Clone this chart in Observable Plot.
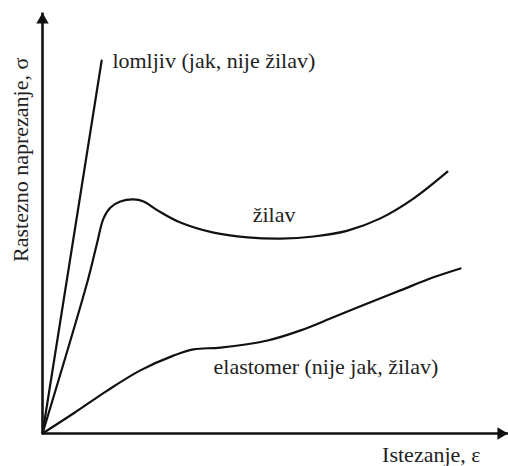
<!DOCTYPE html>
<html>
<head>
<meta charset="utf-8">
<script src="https://cdn.jsdelivr.net/npm/d3@7"></script>
<script src="https://cdn.jsdelivr.net/npm/@observablehq/plot@0.6"></script>
</head>
<body style="margin:0;background:#fff">
<div id="chart"></div>
<script>
// Brittle material (lomljiv)
const brittleX = [0, 12.7];
const brittleY = [0, 88.6];
// Tough material (žilav)
const toughX = [0, 9.7, 11.6, 13.1, 14.6, 16.7, 19.5, 21.7, 24.7, 29.6, 36.7, 44.0, 51.1, 58.2, 65.5, 72.5, 79.6, 86.9];
const toughY = [0, 36.3, 44.7, 51.1, 53.7, 55.1, 55.6, 55.1, 53.0, 50.1, 47.7, 46.6, 46.3, 46.8, 48.2, 51.1, 55.8, 62.2];
// Elastomer
const elastX = [0, 6.7, 13.9, 21.0, 28.1, 32.4, 38.2, 48.3, 55.4, 62.4, 69.7, 76.8, 83.9, 89.7];
const elastY = [0, 4.8, 10.2, 15.0, 18.5, 20.0, 20.4, 22.1, 24.5, 27.6, 30.9, 34.0, 37.1, 39.2];

// Curve labels
const labelText = ["lomljiv (jak, nije žilav)", "žilav", "elastomer (nije jak, žilav)"];
const labelX = [15.0, 49.7, 36.7];
const labelY = [88.4, 52.0, 15.9];
const labelAnchor = ["start", "middle", "start"];

// Axis titles
const xTitle = "Istezanje, ε";
const yTitle = "Rastezno naprezanje, σ";
const xMax = 100, yMax = 100;

const toPts = (xs, ys) => xs.map((x, i) => ({x, y: ys[i]}));
const brittle = toPts(brittleX, brittleY);
const tough = toPts(toughX, toughY);
const elast = toPts(elastX, elastY);
const labels = labelText.map((t, i) => ({t, x: labelX[i], y: labelY[i], a: labelAnchor[i]}));

const font = "Liberation Serif";
const fs = 22;
const ink = "#111";
const txt = "#222";

const chart = Plot.plot({
  width: 508,
  height: 466,
  marginLeft: 42,
  marginRight: 0,
  marginTop: 12,
  marginBottom: 33,
  style: {fontFamily: font},
  x: {domain: [0, xMax], axis: null},
  y: {domain: [0, yMax], axis: null},
  marks: [
    // axes
    Plot.link([{x1: 0, y1: 0, x2: xMax, y2: 0}], {x1: "x1", y1: "y1", x2: "x2", y2: "y2", stroke: ink, strokeWidth: 2.6}),
    Plot.link([{x1: 0, y1: 0, x2: 0, y2: yMax}], {x1: "x1", y1: "y1", x2: "x2", y2: "y2", stroke: ink, strokeWidth: 2.6}),
    Plot.dot([{x: 0, y: yMax}], {x: "x", y: "y", symbol: "triangle", r: 4.6, fill: ink, stroke: "none", dy: 7.5}),
    Plot.dot([{x: xMax, y: 0}], {x: "x", y: "y", symbol: "triangle", r: 4.6, fill: ink, stroke: "none", rotate: 90, dx: -7.5}),
    // curves
    Plot.line(brittle, {x: "x", y: "y", stroke: ink, strokeWidth: 2.2}),
    Plot.line(tough, {x: "x", y: "y", stroke: ink, strokeWidth: 2.2, curve: "catmull-rom"}),
    Plot.line(elast, {x: "x", y: "y", stroke: ink, strokeWidth: 2.2, curve: "catmull-rom"}),
    // labels
    Plot.text(labels.filter(d => d.a === "start"), {x: "x", y: "y", text: "t", textAnchor: "start", fontSize: fs, fill: txt, fontFamily: font}),
    Plot.text(labels.filter(d => d.a === "middle"), {x: "x", y: "y", text: "t", textAnchor: "middle", fontSize: fs, fill: txt, fontFamily: font}),
    Plot.text([xTitle], {x: 94, y: -5.0, text: d => d, textAnchor: "end", fontSize: fs, fill: txt, fontFamily: font}),
    Plot.text([yTitle], {x: -4.6, y: 65, text: d => d, rotate: -90, fontSize: fs, fill: txt, fontFamily: font})
  ]
});

document.getElementById("chart").appendChild(chart);
</script>
</body>
</html>
